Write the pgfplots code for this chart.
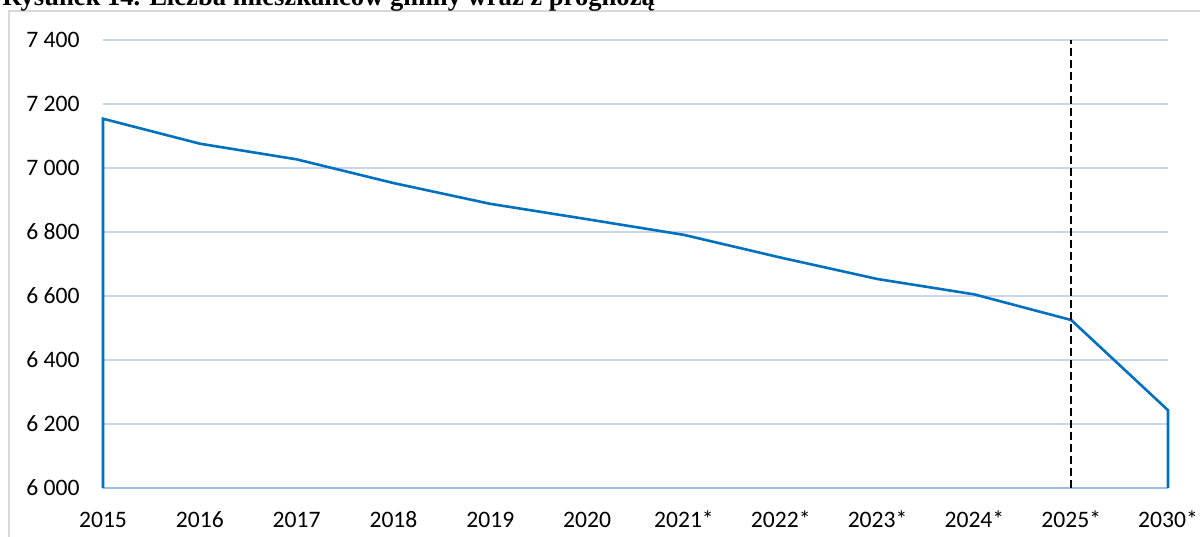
\documentclass[border=0pt]{standalone}
\usepackage{pgfplots}
\pgfplotsset{compat=1.18}
\usepackage{fontspec}
\setmainfont{Carlito}
\newfontfamily\titlefont{Liberation Serif}
\definecolor{lineblue}{HTML}{0070C0}
\definecolor{gridc}{HTML}{C9D6EE}
\definecolor{basec}{HTML}{9DBDE6}
\definecolor{framec}{HTML}{D9D9D9}
\begin{document}
\begin{tikzpicture}
\useasboundingbox (0,0) rectangle (600bp,268.5bp);
\clip (0,0) rectangle (600bp,268.5bp);
\draw[framec, line width=0.7bp] (4.5bp,-10bp) -- (4.5bp,263bp) -- (620bp,263bp);
\node[anchor=base west, inner sep=0pt, font=\titlefont\bfseries\fontsize{13.3bp}{15bp}\selectfont] at (1bp,265.5bp) {Rysunek 14. Liczba mieszkańców gminy wraz z prognozą};
\begin{axis}[
  at={(51.5bp,24.5bp)}, anchor=south west,
  scale only axis, width=532.5bp, height=224bp,
  xmin=0, xmax=11, ymin=6000, ymax=7400,
  axis line style={draw=none},
  major tick length=0pt,
  xtick={0,...,11},
  xticklabels={2015,2016,2017,2018,2019,2020,2021*,2022*,2023*,2024*,2025*,2030*},
  ytick={6200,6400,6600,6800,7000,7200,7400},
  extra y ticks={6000},
  extra y tick labels={6 000},
  extra y tick style={grid=none},
  yticklabels={6 200,6 400,6 600,6 800,7 000,7 200,7 400},
  ymajorgrids, grid style={gridc, line width=0.6bp},
  tick label style={font=\fontsize{11.8bp}{14bp}\selectfont, text=black},
  yticklabel style={anchor=east, inner sep=0pt, xshift=-11.5bp},
  xticklabel style={anchor=center, inner sep=0pt, yshift=-15.75bp},
  clip=false,
]
\addplot[basec, line width=1bp] coordinates {(0,6000) (11,6000)};
\addplot[lineblue, line width=1.3bp, line join=miter] coordinates {
 (0,6000) (0,7154) (1,7076) (2,7027) (3,6953) (4,6888) (5,6840)
 (6,6791) (7,6720) (8,6653) (9,6605) (10,6525) (11,6243) (11,6000)};
\addplot[black, line width=1.1bp, dash pattern=on 3.8bp off 2.2bp] coordinates {(10,6000) (10,7400)};
\end{axis}
\end{tikzpicture}
\end{document}
